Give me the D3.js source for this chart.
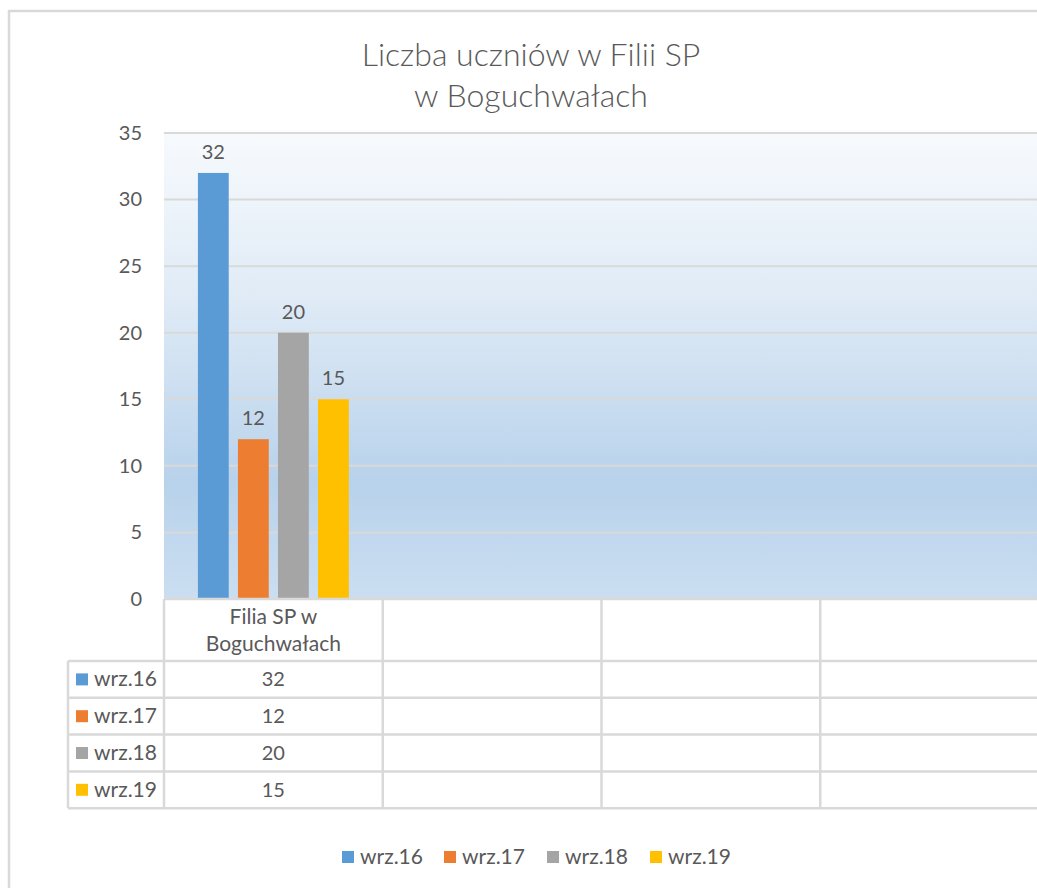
<!DOCTYPE html>
<html>
<head>
<meta charset="utf-8">
<script src="https://cdn.jsdelivr.net/npm/d3@7"></script>
<style>
  html, body { margin: 0; padding: 0; background: #fff; }
  svg { display: block; }
  text { font-family: Lato, "Open Sans", sans-serif; fill: #595959; }
</style>
</head>
<body>
<svg id="chart" width="1037" height="888"></svg>
<script>
// ---- data ----
const titleLines = ["Liczba uczniów w Filii SP", "w Boguchwałach"];
const categories = [["Filia SP w", "Boguchwałach"], [], [], []];
const seriesNames = ["wrz.16", "wrz.17", "wrz.18", "wrz.19"];
const seriesColors = ["#5b9bd5", "#ed7d31", "#a5a5a5", "#ffc000"];
const valuesWrz16 = [32, null, null, null];
const valuesWrz17 = [12, null, null, null];
const valuesWrz18 = [20, null, null, null];
const valuesWrz19 = [15, null, null, null];
const yTicks = [0, 5, 10, 15, 20, 25, 30, 35];

const seriesValues = [valuesWrz16, valuesWrz17, valuesWrz18, valuesWrz19];

// ---- layout ----
const svg = d3.select("#chart");
const plotLeft = 164, plotRight = 1039, plotTop = 133, plotBottom = 599;
const headerBottom = 661;
const rowH = 36.8;
const tableLeft = 68;
const gridColor = "#d9d9d9";

// outer frame (chart border, cropped at right/bottom)
svg.append("path")
  .attr("d", `M9,888 L9,11 L1037,11`)
  .attr("fill", "none").attr("stroke", gridColor).attr("stroke-width", 2.5);

// title
svg.append("g").selectAll("text").data(titleLines).join("text")
  .attr("x", 531).attr("y", (d, i) => 66 + i * 41)
  .attr("text-anchor", "middle")
  .style("font-size", "32px").style("font-weight", 300)
  .text(d => d);

// scales
const x0 = d3.scaleBand().domain(d3.range(categories.length)).range([plotLeft, plotRight]).padding(0);
const bw = x0.bandwidth();
const x1 = d3.scaleBand().domain(d3.range(seriesNames.length))
  .range([bw * 0.155, bw * 0.845]).paddingInner(0.23).paddingOuter(0);
const y = d3.scaleLinear().domain([0, 35]).range([plotBottom, plotTop]);

// background gradient
const defs = svg.append("defs");
const grad = defs.append("linearGradient").attr("id", "bg").attr("x1", 0).attr("y1", 0).attr("x2", 0).attr("y2", 1);
[["0%", "#f7fafd"], ["35%", "#e0ebf6"], ["75%", "#b8d2eb"], ["100%", "#cbdef1"]]
  .forEach(([o, c]) => grad.append("stop").attr("offset", o).attr("stop-color", c));
svg.append("rect").attr("x", plotLeft).attr("y", plotTop)
  .attr("width", plotRight - plotLeft).attr("height", plotBottom - plotTop)
  .attr("fill", "url(#bg)");

// gridlines
svg.append("g").selectAll("line").data(yTicks.filter(t => t > 0)).join("line")
  .attr("x1", plotLeft).attr("x2", plotRight)
  .attr("y1", d => y(d)).attr("y2", d => y(d))
  .attr("stroke", gridColor).attr("stroke-width", 2);

// y axis
const yAxis = svg.append("g").attr("transform", `translate(${plotLeft},0)`)
  .call(d3.axisLeft(y).tickValues(yTicks).tickSize(0).tickPadding(22));
yAxis.select(".domain").remove();
yAxis.selectAll("text").style("font-size", "20px").style("font-family", "Lato, sans-serif").attr("fill", "#595959");

// bars
const groups = svg.append("g").selectAll("g").data(seriesValues).join("g")
  .attr("fill", (d, i) => seriesColors[i]);
groups.each(function(vals, si) {
  const g = d3.select(this);
  const pts = vals.map((v, ci) => ({v, ci})).filter(d => d.v != null);
  g.selectAll("rect").data(pts).join("rect")
    .attr("x", d => x0(d.ci) + x1(si))
    .attr("width", x1.bandwidth())
    .attr("y", d => y(d.v))
    .attr("height", d => y(0) - y(d.v));
  g.selectAll("text").data(pts).join("text")
    .attr("x", d => x0(d.ci) + x1(si) + x1.bandwidth() / 2)
    .attr("y", d => y(d.v) - 14)
    .attr("text-anchor", "middle")
    .style("font-size", "20px")
    .text(d => d.v);
});

// data table
const tableBottom = headerBottom + rowH * seriesNames.length;
const tbl = svg.append("g").attr("stroke", gridColor).attr("stroke-width", 2.5);
tbl.append("line").attr("x1", plotLeft).attr("x2", plotRight).attr("y1", plotBottom).attr("y2", plotBottom);
tbl.selectAll("line.h").data(d3.range(seriesNames.length + 1)).join("line").attr("class", "h")
  .attr("x1", tableLeft).attr("x2", plotRight)
  .attr("y1", i => headerBottom + i * rowH).attr("y2", i => headerBottom + i * rowH);
tbl.selectAll("line.v").data(d3.range(categories.length)).join("line").attr("class", "v")
  .attr("x1", i => x0(i)).attr("x2", i => x0(i))
  .attr("y1", plotBottom).attr("y2", tableBottom);
tbl.append("line").attr("x1", tableLeft).attr("x2", tableLeft).attr("y1", headerBottom).attr("y2", tableBottom);

// category labels
categories.forEach((lines, ci) => {
  svg.append("g").selectAll("text").data(lines).join("text")
    .attr("x", x0(ci) + bw / 2)
    .attr("y", (d, i) => 624 + i * 27)
    .attr("text-anchor", "middle")
    .style("font-size", "21px")
    .text(d => d);
});

// table rows
seriesNames.forEach((name, si) => {
  const cy = headerBottom + si * rowH + rowH / 2;
  svg.append("rect").attr("x", 76).attr("y", cy - 6).attr("width", 12).attr("height", 12).attr("fill", seriesColors[si]);
  svg.append("text").attr("x", 94).attr("y", cy + 7).style("font-size", "21px").text(name);
  seriesValues[si].forEach((v, ci) => {
    if (v == null) return;
    svg.append("text").attr("x", x0(ci) + bw / 2).attr("y", cy + 7)
      .attr("text-anchor", "middle").style("font-size", "20px").text(v);
  });
});

// bottom legend
const legendX = [342, 444, 547, 650];
const lg = svg.append("g").selectAll("g").data(seriesNames).join("g")
  .attr("transform", (d, i) => `translate(${legendX[i]},857)`);
lg.append("rect").attr("x", 0).attr("y", -6).attr("width", 12).attr("height", 12).attr("fill", (d, i) => seriesColors[i]);
lg.append("text").attr("x", 18).attr("y", 7).style("font-size", "21px").text(d => d);
</script>
</body>
</html>
